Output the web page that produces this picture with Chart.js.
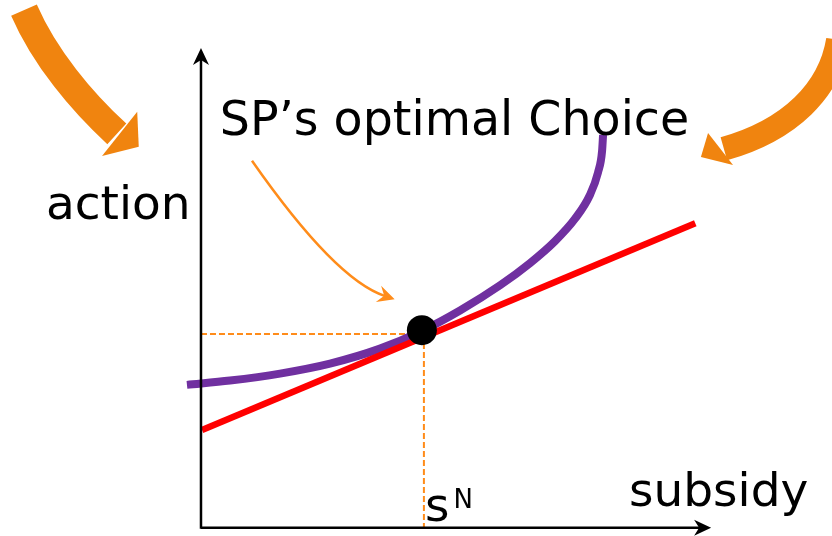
<!DOCTYPE html>
<html>
<head>
<meta charset="utf-8">
<script src="https://cdn.jsdelivr.net/npm/chart.js@4/dist/chart.umd.min.js"></script>
<style>
  html, body { margin: 0; padding: 0; background: #fff; }
  #chart { display: block; }
</style>
</head>
<body>
<canvas id="chart" width="832" height="536"></canvas>
<script>
// social planner curve (purple) : subsidy -> action
const spSubsidy = [-0.275, 0.569, 1.549, 2.529, 3.510, 4.314, 5.078, 5.863, 6.451, 6.941, 7.333, 7.627, 7.784, 7.863, 7.882];
const spAction  = [2.979, 3.069, 3.215, 3.423, 3.735, 4.094, 4.529, 5.054, 5.517, 5.975, 6.442, 6.942, 7.408, 7.858, 8.188];

// agent response line (red)
const respSubsidy = [0.02, 9.69];
const respAction  = [2.04, 6.35];

// optimal choice point and its guide lines
const optSubsidy = [4.33];
const optAction  = [4.12];
const guideSubsidy = [4.37];
const guideAction  = [4.04];

// axis extent and texts
const axisMax = [10, 10];
const titleText = 'SP\u2019s optimal Choice';
const yTitle = 'action';
const xTitle = 'subsidy';
const sLabel = 's';
const sSup = 'N';

const toPts = (xs, ys) => xs.map((x, i) => ({ x: x, y: ys[i] }));

const purple = '#7030a0';
const red = '#ff0000';
const orange = '#ff8c1a';
const bigOrange = '#f0840f';
const font = '"DejaVu Sans", Verdana, sans-serif';

const decor = {
  id: 'decor',
  afterDatasetsDraw(chart) {
    const ctx = chart.ctx;
    const xs = chart.scales.x, ys = chart.scales.y;
    const P = (x, y) => [xs.getPixelForValue(x), ys.getPixelForValue(y)];

    // axes with arrow heads
    const o = P(0, 0), xe = P(axisMax[0], 0), ye = P(0, axisMax[1]);
    ctx.save();
    ctx.strokeStyle = '#000';
    ctx.fillStyle = '#000';
    ctx.lineWidth = 2.5;
    ctx.beginPath();
    ctx.moveTo(o[0], o[1]); ctx.lineTo(xe[0] - 8, xe[1]);
    ctx.moveTo(o[0], o[1] + 1); ctx.lineTo(ye[0], ye[1] + 8);
    ctx.stroke();
    const head = (tip, dx, dy) => {
      const len = 17, hw = 8, notch = 5;
      const px = -dy, py = dx;
      ctx.beginPath();
      ctx.moveTo(tip[0], tip[1]);
      ctx.lineTo(tip[0] - dx * len + px * hw, tip[1] - dy * len + py * hw);
      ctx.lineTo(tip[0] - dx * (len - notch), tip[1] - dy * (len - notch));
      ctx.lineTo(tip[0] - dx * len - px * hw, tip[1] - dy * len - py * hw);
      ctx.closePath();
      ctx.fill();
    };
    head(xe, 1, 0);
    head(ye, 0, -1);

    // thin orange pointer to the optimum
    const a0 = P(1.0, 7.65), a1 = P(2.63, 5.17), a2 = P(3.61, 4.83);
    ctx.strokeStyle = orange;
    ctx.fillStyle = orange;
    ctx.lineWidth = 2.5;
    ctx.beginPath();
    ctx.moveTo(a0[0], a0[1]);
    ctx.quadraticCurveTo(a1[0], a1[1], a2[0], a2[1]);
    ctx.stroke();
    let dx = a2[0] - a1[0], dy = a2[1] - a1[1];
    let d = Math.hypot(dx, dy); dx /= d; dy /= d;
    const tip = [a2[0] + dx * 10, a2[1] + dy * 10];
    const px = -dy, py = dx;
    ctx.beginPath();
    ctx.moveTo(tip[0], tip[1]);
    ctx.lineTo(tip[0] - dx * 17 + px * 8.5, tip[1] - dy * 17 + py * 8.5);
    ctx.lineTo(tip[0] - dx * 11, tip[1] - dy * 11);
    ctx.lineTo(tip[0] - dx * 17 - px * 8.5, tip[1] - dy * 17 - py * 8.5);
    ctx.closePath();
    ctx.fill();

    // big curved arrows in the corners
    const bigArrow = (pts, w, hd) => {
      const q = pts.map(p => P(p[0], p[1]));
      ctx.strokeStyle = bigOrange;
      ctx.fillStyle = bigOrange;
      ctx.lineWidth = w;
      ctx.lineCap = 'butt';
      ctx.beginPath();
      ctx.moveTo(q[0][0], q[0][1]);
      ctx.bezierCurveTo(q[1][0], q[1][1], q[2][0], q[2][1], q[3][0], q[3][1]);
      ctx.stroke();
      const h = hd.map(p => P(p[0], p[1]));
      ctx.beginPath();
      ctx.moveTo(h[0][0], h[0][1]);
      ctx.lineTo(h[1][0], h[1][1]);
      ctx.lineTo(h[2][0], h[2][1]);
      ctx.closePath();
      ctx.fill();
    };
    bigArrow([[-3.47, 10.79], [-3.06, 9.79], [-2.33, 8.875], [-1.65, 8.21]], 28,
      [[-1.25, 8.67], [-1.22, 7.94], [-1.94, 7.75]]);
    bigArrow([[12.49, 10.17], [12.33, 9.125], [11.55, 8.29], [10.25, 7.90]], 24,
      [[9.94, 8.23], [9.80, 7.73], [10.43, 7.56]]);

    // texts
    ctx.fillStyle = '#000';
    ctx.textBaseline = 'alphabetic';
    ctx.textAlign = 'left';
    const txt = (s, x, y, size) => {
      const p = P(x, y);
      ctx.font = size + 'px ' + font;
      ctx.fillText(s, p[0], p[1]);
    };
    txt(titleText, 0.37, 8.19, 47.5);
    txt(yTitle, -3.04, 6.44, 47);
    txt(xTitle, 8.39, 0.46, 47);
    txt(sLabel, 4.39, 0.15, 47);
    txt(sSup, 4.95, 0.42, 26);
    ctx.restore();
  }
};

new Chart(document.getElementById('chart'), {
  type: 'scatter',
  data: {
    datasets: [
      {
        data: toPts(optSubsidy, optAction),
        pointRadius: 15,
        pointBackgroundColor: '#000',
        pointBorderWidth: 0,
        order: 0
      },
      {
        data: toPts(respSubsidy, respAction),
        showLine: true,
        borderColor: red,
        borderWidth: 6.5,
        pointRadius: 0,
        order: 1
      },
      {
        data: toPts(spSubsidy, spAction),
        showLine: true,
        borderColor: purple,
        borderWidth: 8,
        cubicInterpolationMode: 'monotone',
        pointRadius: 0,
        order: 2
      },
      {
        // horizontal guide
        data: [{ x: 0, y: guideAction[0] }, { x: guideSubsidy[0], y: guideAction[0] }],
        showLine: true,
        borderColor: orange,
        borderWidth: 2,
        borderDash: [6, 3],
        pointRadius: 0,
        order: 3
      },
      {
        // vertical guide
        data: [{ x: guideSubsidy[0], y: guideAction[0] }, { x: guideSubsidy[0], y: 0 }],
        showLine: true,
        borderColor: orange,
        borderWidth: 2,
        borderDash: [6, 3],
        pointRadius: 0,
        order: 4
      }
    ]
  },
  options: {
    responsive: false,
    animation: false,
    events: [],
    layout: { padding: 0, autoPadding: false },
    plugins: { legend: { display: false }, tooltip: { enabled: false } },
    scales: {
      x: { type: 'linear', min: -3.94, max: 12.37, display: false },
      y: { type: 'linear', min: -0.17, max: 11, display: false }
    }
  },
  plugins: [decor]
});
</script>
</body>
</html>
